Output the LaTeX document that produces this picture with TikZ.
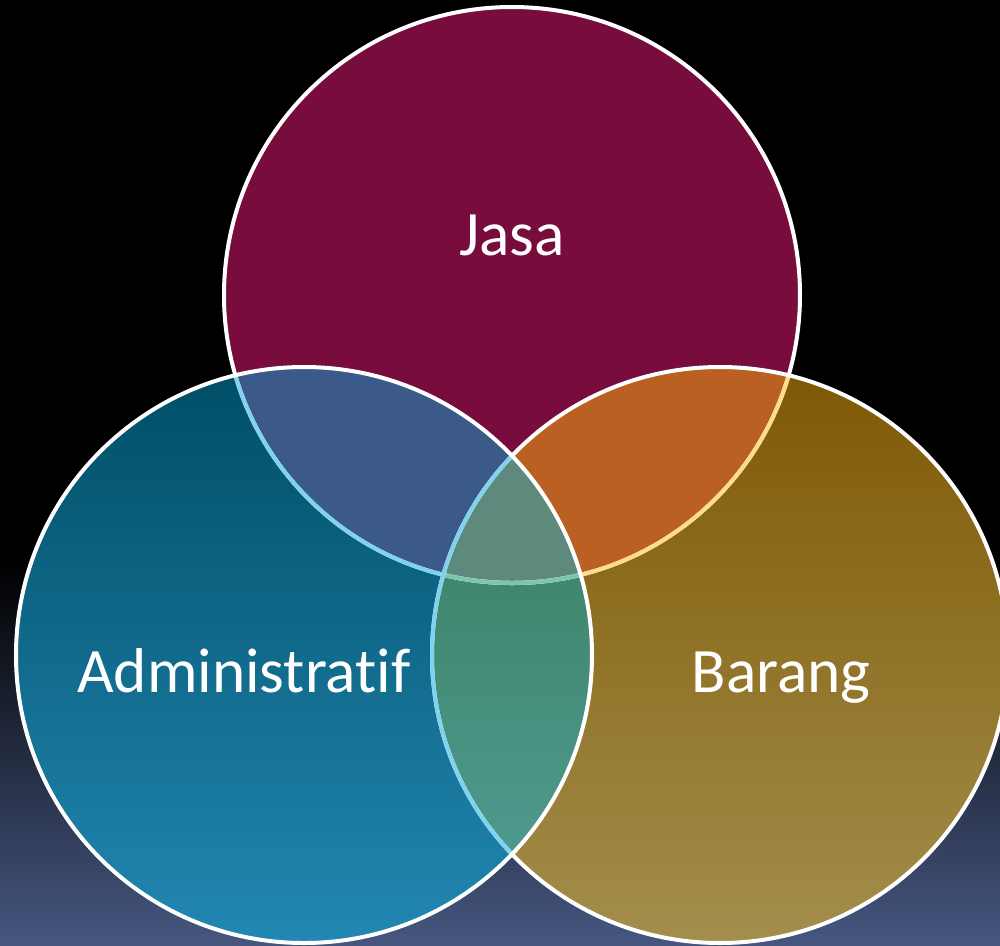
\documentclass[tikz,border=0pt]{standalone}
\usepackage{fontspec}
\setmainfont{Carlito}[Ligatures=NoCommon]

\definecolor{bgblue}{HTML}{46567F}
\definecolor{jasared}{HTML}{780C3C}
\definecolor{admintop}{HTML}{004E66}
\definecolor{adminbot}{HTML}{2287B2}
\definecolor{barangtop}{HTML}{7E5904}
\definecolor{barangbot}{HTML}{A38E4C}
\definecolor{jasaadmin}{HTML}{3B5A89}
\definecolor{jasabarang}{HTML}{BA6022}
\definecolor{midtop}{HTML}{40866E}
\definecolor{midbot}{HTML}{4E9A8E}
\definecolor{centre}{HTML}{5E8A7E}
\definecolor{edgeblue}{HTML}{7FD3EE}
\definecolor{edgeyellow}{HTML}{FFDB8C}
\definecolor{edgegreen}{HTML}{7CC5AE}

\begin{document}
\begin{tikzpicture}[x=0.1mm, y=-0.1mm,
	ring/.style={line width=0.4mm},
	vennlabel/.style={text=white, anchor=base, inner sep=0pt, font=\fontsize{18}{22}\selectfont}]
	\clip (0,0) rectangle (1000,945);
	% background
	\fill [black] (0,0) rectangle (1000,945);
	\shade [top color=black, bottom color=bgblue] (0,560) rectangle (1000,945);

	\coordinate (cJ) at (512,295);
	\coordinate (cA) at (304,655);
	\coordinate (cB) at (720,655);

	% circles
	\fill [jasared] (cJ) circle (288);
	\shade [top color=admintop, bottom color=adminbot] (cA) circle (288);
	\shade [top color=barangtop, bottom color=barangbot] (cB) circle (288);

	% overlaps
	\begin{scope}
	\clip (cJ) circle (288);
	\fill [jasaadmin] (cA) circle (288);
	\fill [jasabarang] (cB) circle (288);
	\end{scope}
	\begin{scope}
	\clip (cA) circle (288);
	\clip (cB) circle (288);
	\shade [top color=midtop, bottom color=midbot] (420,570) rectangle (600,860);
	\clip (cJ) circle (288);
	\fill [centre] (420,440) rectangle (600,600);
	\end{scope}

	% outlines: Jasa first, then Barang, Administratif on top
	\draw [ring, white] (cJ) circle (288);
	\begin{scope}
	\clip (cA) circle (288);
	\draw [ring, edgeblue] (cJ) circle (288);
	\end{scope}
	\begin{scope}
	\clip (cB) circle (288);
	\draw [ring, edgeyellow] (cJ) circle (288);
	\clip (cA) circle (288);
	\draw [ring, edgegreen] (cJ) circle (288);
	\end{scope}

	\draw [ring, white] (cB) circle (288);
	\begin{scope}
	\clip (cA) circle (288);
	\draw [ring, edgeblue] (cB) circle (288);
	\end{scope}

	\draw [ring, white] (cA) circle (288);

	\node [vennlabel] (jasa) at (512,255) {Jasa};
	\node [vennlabel] (admin) at (244,692) {Administratif};
	\node [vennlabel] (barang) at (781,692) {Barang};
\end{tikzpicture}
\end{document}
